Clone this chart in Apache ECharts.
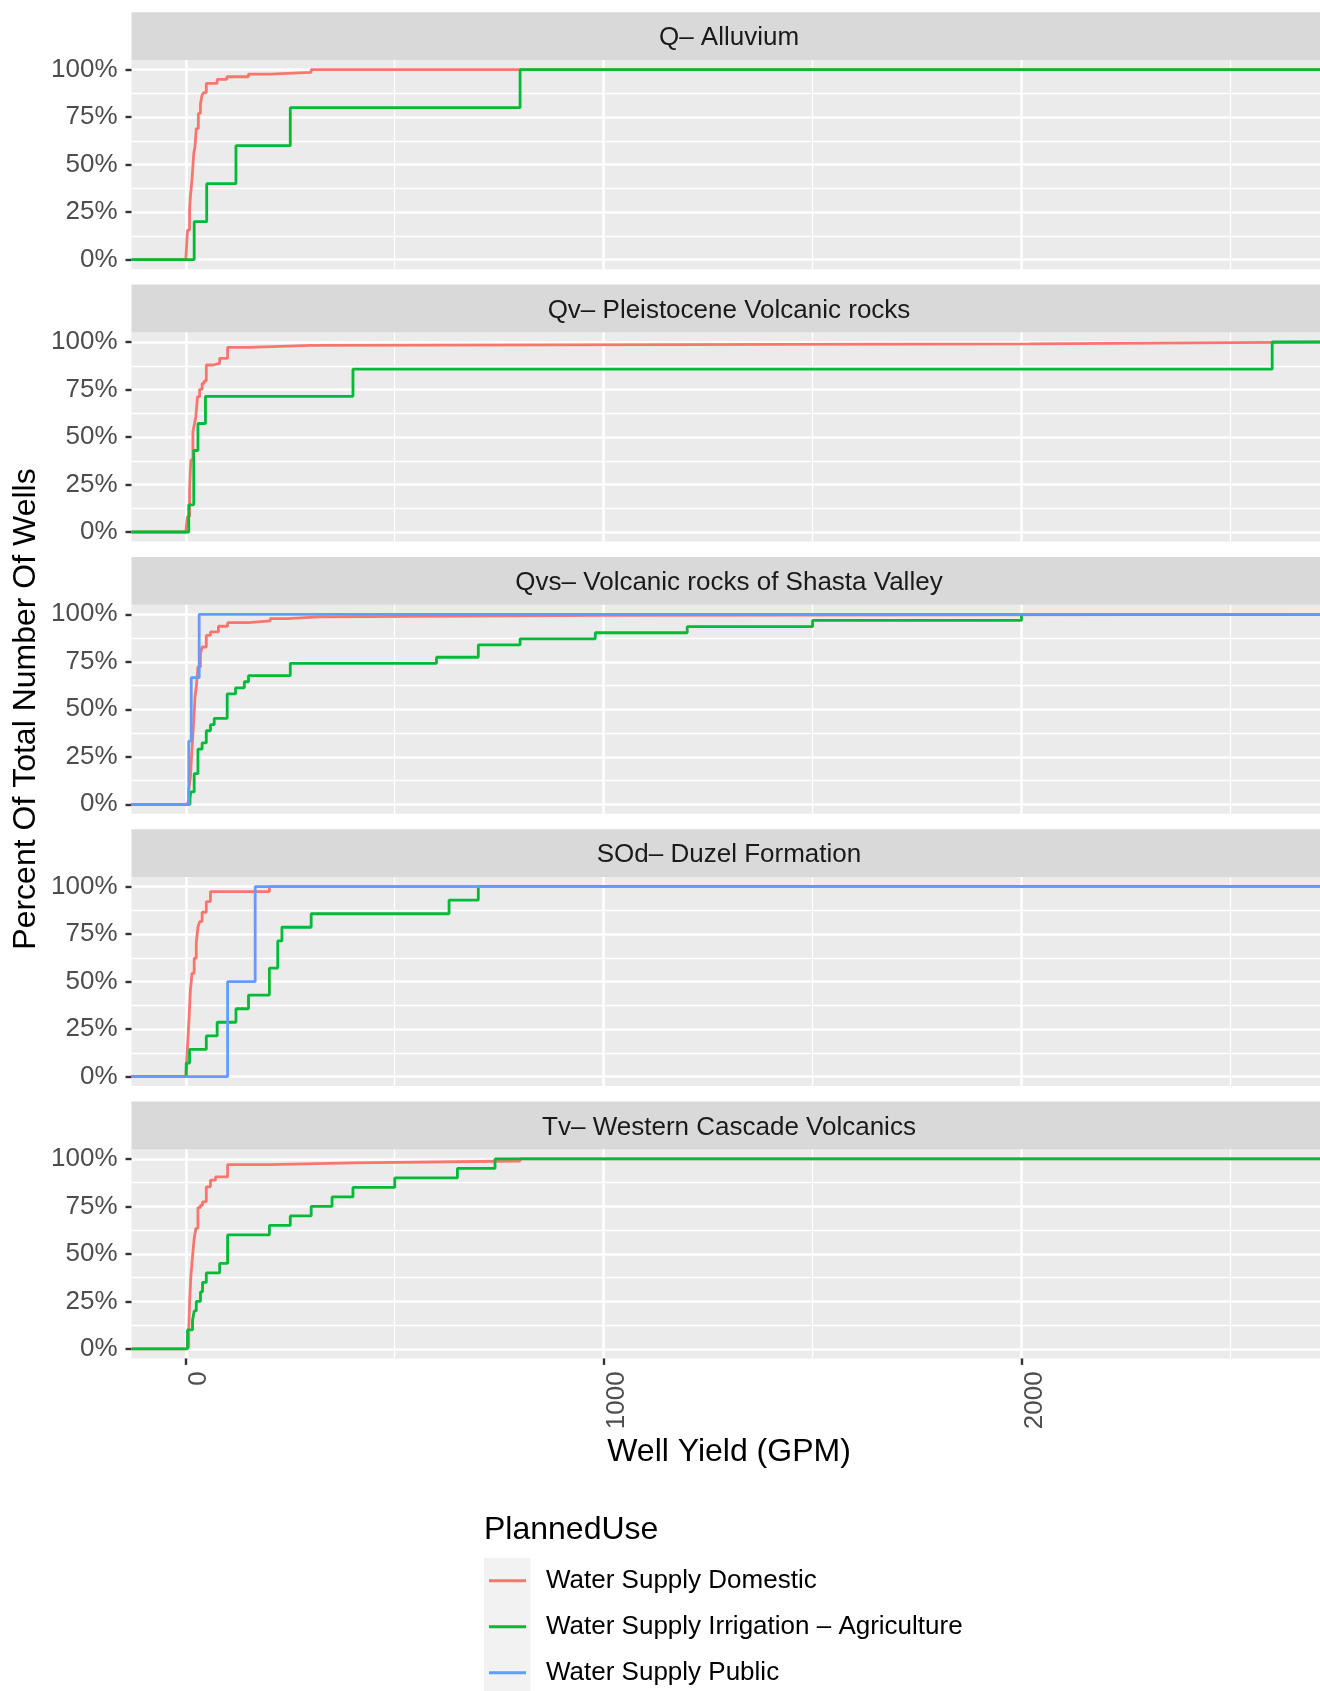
<!DOCTYPE html>
<html>
<head>
<meta charset="utf-8">
<title>Well Yield by Geologic Unit</title>
<script src="https://cdn.jsdelivr.net/npm/echarts@6/dist/echarts.min.js"></script>
<style>
  html, body { margin: 0; padding: 0; background: #ffffff; }
  #chart { width: 1320px; height: 1691px; }
</style>
</head>
<body>
<div id="chart"></div>
<script>
// ---- data -------------------------------------------------------------
const panelTitles = [
  'Q– Alluvium',
  'Qv– Pleistocene Volcanic rocks',
  'Qvs– Volcanic rocks of Shasta Valley',
  'SOd– Duzel Formation',
  'Tv– Western Cascade Volcanics'
];
const plannedUses = [
  'Water Supply Domestic',
  'Water Supply Irrigation – Agriculture',
  'Water Supply Public'
];
const xTicks = [0, 1000, 2000];
const xMinorTicks = [500, 1500, 2500];
const yTicks = [0, 0.25, 0.5, 0.75, 1];
const yMinorTicks = [0.125, 0.375, 0.625, 0.875];

// Empirical cumulative share of wells: [well yield (GPM), share at or below]
const alluviumDomestic = [[0,0.002],[4,0.156],[9,0.262],[11,0.332],[15,0.428],[19,0.56],[22,0.595],[25,0.69],[30,0.77],[35,0.82],[39,0.867],[43,0.879],[49,0.928],[75,0.949],[98,0.963],[150,0.977],[202,0.986],[300,1]];
const alluviumIrrigation = [[20,0.2],[50,0.4],[120,0.6],[250,0.8],[800,1]];

const qvDomestic = [[0,0.01],[4,0.081],[9,0.221],[12,0.379],[17,0.528],[21,0.572],[24,0.607],[28,0.712],[33,0.751],[39,0.782],[44,0.795],[49,0.879],[65,0.888],[81,0.914],[100,0.972],[150,0.982],[300,0.99],[2020,1]];
const qvIrrigation = [[7,0.143],[19,0.429],[29,0.571],[47,0.714],[400,0.857],[2600,1]];

const qvsDomestic = [[0,0.01],[7,0.074],[11,0.144],[15,0.30],[19,0.442],[22,0.565],[25,0.617],[29,0.723],[35,0.793],[39,0.828],[49,0.889],[59,0.907],[78,0.937],[100,0.956],[150,0.965],[202,0.977],[242,0.986],[320,0.995],[1000,1]];
const qvsIrrigation = [[10,0.032],[12,0.065],[20,0.161],[29,0.29],[39,0.323],[49,0.387],[59,0.419],[68,0.452],[99,0.581],[119,0.613],[140,0.645],[150,0.677],[250,0.742],[600,0.774],[700,0.839],[800,0.871],[980,0.903],[1200,0.935],[1500,0.968],[2000,1]];
const qvsPublic = [[7,0.333],[13,0.667],[32,1]];

const sodDomestic = [[0,0.01],[4,0.158],[8,0.316],[11,0.456],[15,0.544],[20,0.623],[25,0.705],[29,0.786],[33,0.816],[39,0.865],[49,0.921],[59,0.974],[200,1]];
const sodIrrigation = [[1,0.071],[9,0.143],[49,0.214],[75,0.286],[120,0.357],[150,0.429],[200,0.571],[220,0.714],[230,0.786],[300,0.857],[630,0.929],[700,1]];
const sodPublic = [[100,0.5],[166,1]];

const tvDomestic = [[0,0.01],[7,0.098],[9,0.239],[12,0.379],[16,0.484],[20,0.581],[24,0.634],[29,0.744],[35,0.756],[40,0.774],[49,0.853],[59,0.888],[71,0.905],[100,0.97],[200,0.979],[400,0.989],[800,1]];
const tvIrrigation = [[4,0.1],[16,0.15],[20,0.2],[25,0.25],[35,0.3],[40,0.35],[49,0.4],[81,0.45],[100,0.6],[200,0.65],[250,0.7],[300,0.75],[350,0.8],[400,0.85],[500,0.9],[650,0.95],[740,1]];

// one entry per facet: [domestic, irrigation, public]
const panelSeries = [
  [alluviumDomestic, alluviumIrrigation, null],
  [qvDomestic, qvIrrigation, null],
  [qvsDomestic, qvsIrrigation, qvsPublic],
  [sodDomestic, sodIrrigation, sodPublic],
  [tvDomestic, tvIrrigation, null]
];

// ---- layout & style ---------------------------------------------------
const useColors = ['#F8766D', '#00BA38', '#619CFF'];
const FONT = '"Liberation Sans", Arial, Helvetica, sans-serif';
const X_MIN = -130, X_MAX = 2730;
const Y_MIN = -0.05, Y_MAX = 1.05;
const PANEL_LEFT = 131.5, PANEL_WIDTH = 1195;
const PANEL_TOP = 60.2, PANEL_HEIGHT = 209, PANEL_STEP = 272.3;
const STRIP_TOP = 12.3, STRIP_HEIGHT = 47.9;

const grids = [], xAxes = [], yAxes = [], series = [], graphics = [];

panelTitles.forEach((title, i) => {
  const isBottom = i === panelTitles.length - 1;
  grids.push({
    left: PANEL_LEFT, width: PANEL_WIDTH,
    top: PANEL_TOP + i * PANEL_STEP, height: PANEL_HEIGHT,
    show: true, backgroundColor: '#EBEBEB', borderWidth: 0,
    containLabel: false, outerBoundsMode: 'none'
  });

  // major x axis (ticks/labels only on the bottom facet)
  xAxes.push({
    type: 'value', gridIndex: i, min: X_MIN, max: X_MAX, position: 'bottom',
    axisLine: { show: false, onZero: false },
    axisTick: { show: isBottom, customValues: xTicks, length: 6.5,
      lineStyle: { color: '#333333', width: 2.4 } },
    axisLabel: { show: isBottom, customValues: xTicks, rotate: 90, margin: 13,
      verticalAlign: 'top', fontSize: 26, fontFamily: FONT, color: '#4D4D4D',
      formatter: v => String(v) },
    splitLine: { show: true, lineStyle: { color: '#FFFFFF', width: 2.6 } }
  });
  // minor x gridlines
  xAxes.push({
    type: 'value', gridIndex: i, min: X_MIN, max: X_MAX, position: 'top',
    axisLine: { show: false, onZero: false },
    axisTick: { show: false, customValues: xMinorTicks },
    axisLabel: { show: false, customValues: xMinorTicks },
    splitLine: { show: true, lineStyle: { color: '#FFFFFF', width: 1.3 } }
  });

  yAxes.push({
    type: 'value', gridIndex: i, min: Y_MIN, max: Y_MAX, position: 'left',
    axisLine: { show: false, onZero: false },
    axisTick: { show: true, customValues: yTicks, length: 6,
      lineStyle: { color: '#333333', width: 2.4 } },
    axisLabel: { show: true, customValues: yTicks, margin: 14,
      fontSize: 26, fontFamily: FONT, color: '#4D4D4D', padding: [5, 0, 0, 0],
      formatter: v => Math.round(v * 100) + '%' },
    splitLine: { show: true, lineStyle: { color: '#FFFFFF', width: 2.6 } }
  });
  yAxes.push({
    type: 'value', gridIndex: i, min: Y_MIN, max: Y_MAX, position: 'right',
    axisLine: { show: false, onZero: false },
    axisTick: { show: false, customValues: yMinorTicks },
    axisLabel: { show: false, customValues: yMinorTicks },
    splitLine: { show: true, lineStyle: { color: '#FFFFFF', width: 1.3 } }
  });

  // ECDF steps run from the left edge at 0% to the right edge at 100%
  panelSeries[i].forEach((pts, k) => {
    if (!pts) return;
    series.push({
      name: plannedUses[k],
      type: 'line',
      step: 'end',
      xAxisIndex: 2 * i,
      yAxisIndex: 2 * i,
      showSymbol: false,
      symbol: 'none',
      animation: false,
      silent: true,
      z: 2 + k,
      color: useColors[k],
      itemStyle: { color: useColors[k] },
      lineStyle: { color: useColors[k], width: 2.8 },
      data: [[X_MIN, 0]].concat(pts, [[X_MAX, 1]])
    });
  });

  // facet strip
  const stripY = STRIP_TOP + i * PANEL_STEP;
  graphics.push({
    type: 'rect', silent: true,
    shape: { x: PANEL_LEFT, y: stripY, width: PANEL_WIDTH, height: STRIP_HEIGHT },
    style: { fill: '#D9D9D9' }
  });
  graphics.push({
    type: 'text', silent: true,
    x: PANEL_LEFT + PANEL_WIDTH / 2, y: stripY + STRIP_HEIGHT / 2 + 2,
    style: { text: title, fill: '#1A1A1A', fontSize: 26, fontFamily: FONT,
      align: 'center', verticalAlign: 'middle' }
  });
});

// axis titles
graphics.push({
  type: 'text', silent: true, x: PANEL_LEFT + PANEL_WIDTH / 2, y: 1452,
  style: { text: 'Well Yield (GPM)', fill: '#000000', fontSize: 32, fontFamily: FONT,
    align: 'center', verticalAlign: 'middle' }
});
graphics.push({
  type: 'text', silent: true, x: 26, y: 709, rotation: Math.PI / 2,
  style: { text: 'Percent Of Total Number Of Wells', fill: '#000000', fontSize: 32,
    fontFamily: FONT, align: 'center', verticalAlign: 'middle' }
});

// legend title and key background
graphics.push({
  type: 'text', silent: true, x: 484, y: 1530,
  style: { text: 'PlannedUse', fill: '#000000', fontSize: 32, fontFamily: FONT,
    align: 'left', verticalAlign: 'middle' }
});
graphics.push({
  type: 'rect', silent: true, z: -1,
  shape: { x: 484, y: 1558, width: 46.5, height: 140 },
  style: { fill: '#F2F2F2' }
});

const chart = echarts.init(document.getElementById('chart'), null, { renderer: 'canvas' });
chart.setOption({
  animation: false,
  backgroundColor: '#FFFFFF',
  textStyle: { fontFamily: FONT },
  grid: grids,
  xAxis: xAxes,
  yAxis: yAxes,
  series: series,
  legend: {
    orient: 'vertical',
    left: 489, top: 1565.7,
    padding: 0,
    icon: 'rect',
    itemWidth: 37, itemHeight: 3, itemGap: 16,
    selectedMode: false,
    data: plannedUses,
    textStyle: { fontSize: 26, lineHeight: 26, color: '#000000', fontFamily: FONT,
      padding: [4, 0, 0, 15] }
  },
  graphic: graphics
});
</script>
</body>
</html>
